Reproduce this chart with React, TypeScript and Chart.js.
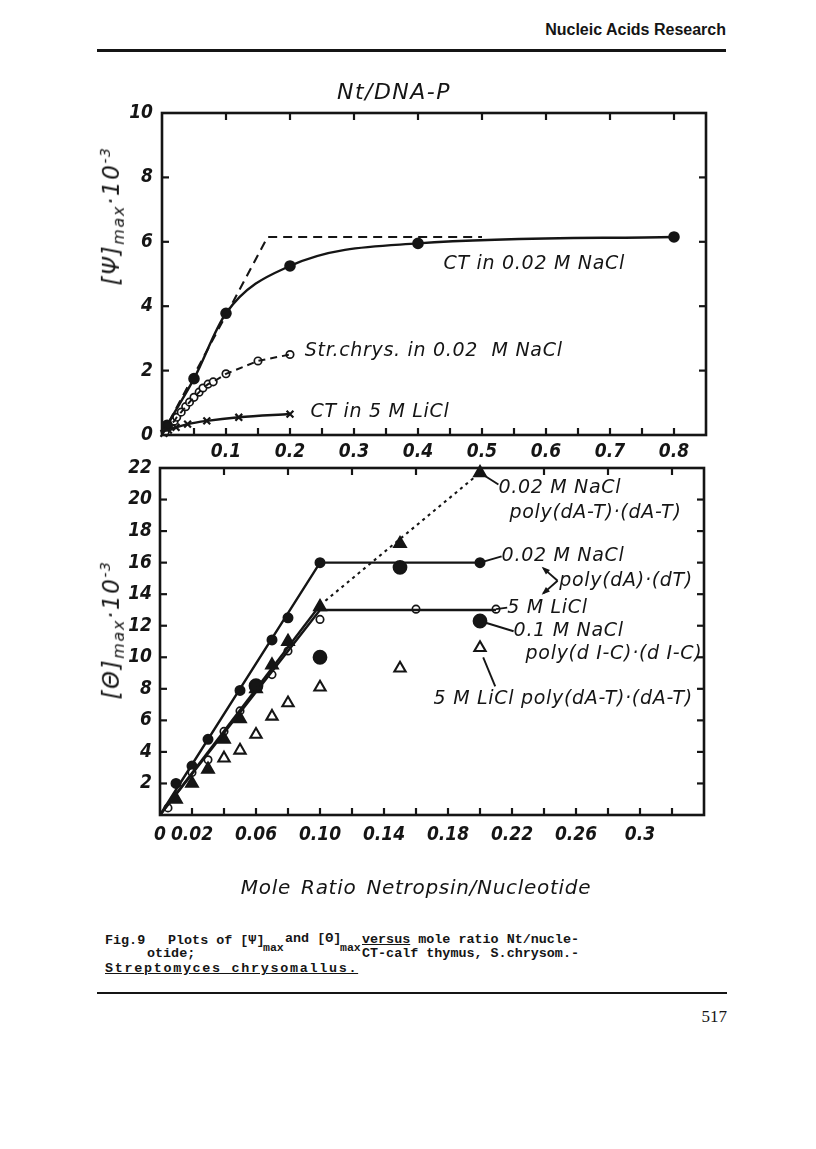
import React, { useEffect, useRef } from "react";
import { Chart, registerables } from "chart.js";

Chart.register(...registerables);

// ================= Upper panel: [Ψ]max vs Nt/DNA-P =================
const ctNaClX = [0, 0.008, 0.05, 0.1, 0.2, 0.4, 0.8];
const ctNaClY = [0, 0.3, 1.75, 3.78, 5.25, 5.95, 6.15];

const strChrysX = [0.005, 0.01, 0.019, 0.023, 0.03, 0.037, 0.043, 0.05, 0.058, 0.064, 0.072, 0.08, 0.1, 0.15, 0.2];
const strChrysY = [0.1, 0.24, 0.43, 0.55, 0.71, 0.88, 1.02, 1.17, 1.33, 1.46, 1.58, 1.65, 1.9, 2.3, 2.5];

const ctLiClX = [0.003, 0.01, 0.022, 0.04, 0.07, 0.12, 0.2];
const ctLiClY = [0.05, 0.15, 0.24, 0.34, 0.44, 0.55, 0.65];

const limitX = [0, 0.165, 0.5];
const limitY = [0, 6.15, 6.15];

const topXLabelValues = [0.1, 0.2, 0.3, 0.4, 0.5, 0.6, 0.7, 0.8];
const topXLabelTexts = ["0.1", "0.2", "0.3", "0.4", "0.5", "0.6", "0.7", "0.8"];
const topYLabelValues = [0, 2, 4, 6, 8, 10];
const topYLabelTexts = ["0", "2", "4", "6", "8", "10"];
const topXMarksBottom = [0.05, 0.1, 0.15, 0.2, 0.25, 0.3, 0.35, 0.4, 0.45, 0.5, 0.55, 0.6, 0.65, 0.7, 0.75, 0.8];
const topXMarksTop = [0.1, 0.2, 0.3, 0.4, 0.5, 0.6, 0.7, 0.8];
const topYMarks = [2, 4, 6, 8];

// ================= Lower panel: [Θ]max vs mole ratio =================
const dAdT_NaClX = [0.01, 0.02, 0.03, 0.05, 0.07, 0.08, 0.1, 0.2];
const dAdT_NaClY = [2.0, 3.1, 4.8, 7.9, 11.1, 12.5, 16, 16];
const dAdT_NaClFitX = [0, 0.1, 0.2];
const dAdT_NaClFitY = [0, 16, 16];

const dAdT_LiClX = [0.005, 0.02, 0.03, 0.04, 0.05, 0.07, 0.08, 0.1, 0.16, 0.21];
const dAdT_LiClY = [0.45, 2.7, 3.5, 5.3, 6.6, 8.9, 10.4, 12.4, 13.05, 13.05];
const dAdT_LiClFitX = [0, 0.1, 0.21];
const dAdT_LiClFitY = [0, 13.0, 13.0];

const dAT_NaClX = [0.01, 0.02, 0.03, 0.04, 0.05, 0.06, 0.07, 0.08, 0.1, 0.15, 0.2];
const dAT_NaClY = [1.0, 2.0, 2.9, 4.8, 6.1, 8.0, 9.5, 11.0, 13.2, 17.2, 21.7];
const dAT_NaClFitX = [0, 0.1];
const dAT_NaClFitY = [0, 13.3];
const dAT_NaClExtX = [0.1, 0.2];
const dAT_NaClExtY = [13.3, 21.7];

const dIC_NaClX = [0.06, 0.1, 0.15, 0.2];
const dIC_NaClY = [8.2, 10.0, 15.7, 12.3];

const dAT_LiClX = [0.04, 0.05, 0.06, 0.07, 0.08, 0.1, 0.15, 0.2];
const dAT_LiClY = [3.6, 4.1, 5.1, 6.25, 7.1, 8.1, 9.3, 10.6];

const botXLabelValues = [0, 0.02, 0.06, 0.1, 0.14, 0.18, 0.22, 0.26, 0.3];
const botXLabelTexts = ["0", "0.02", "0.06", "0.10", "0.14", "0.18", "0.22", "0.26", "0.3"];
const botYLabelValues = [2, 4, 6, 8, 10, 12, 14, 16, 18, 20, 22];
const botYLabelTexts = ["2", "4", "6", "8", "10", "12", "14", "16", "18", "20", "22"];
const botXMarksBottom = [0.02, 0.04, 0.06, 0.08, 0.1, 0.12, 0.14, 0.16, 0.18, 0.2, 0.22, 0.24, 0.26, 0.28, 0.3, 0.32];
const botXMarksTop = [0.04, 0.08, 0.12, 0.16, 0.2, 0.24, 0.28, 0.32];
const botYMarks = [2, 4, 6, 8, 10, 12, 14, 16, 18, 20];

// Annotations (data coordinates)
const topNotes = [
  { text: "CT in 0.02 M NaCl", x: 0.44, y: 5.3 },
  { text: "Str.chrys. in 0.02  M NaCl", x: 0.223, y: 2.6 },
  { text: "CT in 5 M LiCl", x: 0.232, y: 0.7 },
];
const botNotes = [
  { text: "0.02 M NaCl", x: 0.2115, y: 20.75 },
  { text: "poly(dA-T)·(dA-T)", x: 0.2184, y: 19.15 },
  { text: "0.02 M NaCl", x: 0.2135, y: 16.4 },
  { text: "poly(dA)·(dT)", x: 0.2495, y: 14.85 },
  { text: "5 M LiCl", x: 0.217, y: 13.15 },
  { text: "0.1 M NaCl", x: 0.221, y: 11.65 },
  { text: "poly(d I-C)·(d I-C)", x: 0.2285, y: 10.2 },
  { text: "5 M LiCl poly(dA-T)·(dA-T)", x: 0.171, y: 7.35 },
];
const botLeaders = [
  { pts: [[0.2, 21.7], [0.2115, 20.95]], arrow: false },
  { pts: [[0.2, 16], [0.2135, 16.4]], arrow: false },
  { pts: [[0.21, 13.05], [0.217, 13.15]], arrow: false },
  { pts: [[0.2, 12.3], [0.221, 11.65]], arrow: false },
  { pts: [[0.202, 10.0], [0.2095, 8.15]], arrow: false },
  { pts: [[0.2485, 14.85], [0.2395, 15.65]], arrow: true },
  { pts: [[0.2485, 14.85], [0.2395, 14.05]], arrow: true },
];

const INK = "#151515";
const FONT = '"DejaVu Sans Condensed", "DejaVu Sans", sans-serif';
const TEXT_FONT = '"DejaVu Sans", sans-serif';

function pts(xs: number[], ys: number[]) {
  return xs.map((x, i) => ({ x, y: ys[i] }));
}

type PanelCfg = {
  xBottom: number[];
  xTop: number[];
  yMarks: number[];
  notes: { text: string; x: number; y: number }[];
  leaders: { pts: number[][]; arrow: boolean }[];
};

function framePlugin(cfg: PanelCfg) {
  return {
    id: "frame",
    afterDatasetsDraw(chart: any) {
      const { ctx, chartArea: a } = chart;
      const x = chart.scales.x;
      const y = chart.scales.y;
      ctx.save();
      ctx.strokeStyle = INK;
      ctx.fillStyle = INK;
      ctx.lineWidth = 2.6;
      ctx.setLineDash([]);
      ctx.strokeRect(a.left, a.top, a.right - a.left, a.bottom - a.top);
      ctx.lineWidth = 2.2;
      const L = 7;
      const seg = (x1: number, y1: number, x2: number, y2: number) => {
        ctx.beginPath();
        ctx.moveTo(x1, y1);
        ctx.lineTo(x2, y2);
        ctx.stroke();
      };
      cfg.xBottom.forEach((v) => {
        const p = x.getPixelForValue(v);
        seg(p, a.bottom, p, a.bottom - L);
      });
      cfg.xTop.forEach((v) => {
        const p = x.getPixelForValue(v);
        seg(p, a.top, p, a.top + L);
      });
      cfg.yMarks.forEach((v) => {
        const p = y.getPixelForValue(v);
        seg(a.left, p, a.left + L, p);
        seg(a.right, p, a.right - L, p);
      });
      ctx.lineWidth = 1.9;
      cfg.leaders.forEach((l) => {
        const p0 = [x.getPixelForValue(l.pts[0][0]), y.getPixelForValue(l.pts[0][1])];
        const p1 = [x.getPixelForValue(l.pts[1][0]), y.getPixelForValue(l.pts[1][1])];
        seg(p0[0], p0[1], p1[0], p1[1]);
        if (l.arrow) {
          const ang = Math.atan2(p1[1] - p0[1], p1[0] - p0[0]);
          const s = 7;
          ctx.beginPath();
          ctx.moveTo(p1[0] + Math.cos(ang) * 2, p1[1] + Math.sin(ang) * 2);
          ctx.lineTo(p1[0] - Math.cos(ang - 0.45) * s, p1[1] - Math.sin(ang - 0.45) * s);
          ctx.lineTo(p1[0] - Math.cos(ang + 0.45) * s, p1[1] - Math.sin(ang + 0.45) * s);
          ctx.closePath();
          ctx.fill();
        }
      });
      ctx.font = `italic 19px ${TEXT_FONT}`;
      (ctx as any).letterSpacing = "0.7px";
      ctx.textBaseline = "middle";
      ctx.textAlign = "left";
      cfg.notes.forEach((n) => {
        ctx.fillText(n.text, x.getPixelForValue(n.x), y.getPixelForValue(n.y));
      });
      (ctx as any).letterSpacing = "0px";
      ctx.restore();
    },
  };
}

function lineDs(data: any[], opts: any = {}) {
  return {
    data,
    showLine: true,
    borderColor: INK,
    borderWidth: 2.4,
    pointRadius: 0,
    fill: false,
    clip: false,
    ...opts,
  };
}

function markDs(data: any[], style: string, filled: boolean, radius: number, opts: any = {}) {
  return {
    data,
    showLine: false,
    pointStyle: style,
    pointRadius: radius,
    pointBorderWidth: 1.8,
    pointBorderColor: INK,
    pointBackgroundColor: filled ? INK : "#ffffff",
    clip: false,
    ...opts,
  };
}

function makeScales(o: {
  xmax: number;
  ymax: number;
  xVals: number[];
  xTexts: string[];
  yVals: number[];
  yTexts: string[];
  yWidth: number;
  xHeight: number;
  xPad: number;
  yPad: number;
}) {
  const tickFont = { family: FONT, size: 19, style: "italic" as const, weight: "bold" as const };
  return {
    x: {
      type: "linear" as const,
      min: 0,
      max: o.xmax,
      grid: { display: false, drawTicks: false },
      border: { display: false },
      afterBuildTicks: (s: any) => {
        s.ticks = o.xVals.map((v) => ({ value: v }));
      },
      afterFit: (s: any) => {
        s.height = o.xHeight;
      },
      ticks: {
        autoSkip: false,
        maxRotation: 0,
        padding: o.xPad,
        color: INK,
        font: tickFont,
        callback: (v: any) => {
          const i = o.xVals.findIndex((t) => Math.abs(t - v) < 1e-9);
          return i >= 0 ? o.xTexts[i] : "";
        },
      },
    },
    y: {
      type: "linear" as const,
      min: 0,
      max: o.ymax,
      grid: { display: false, drawTicks: false },
      border: { display: false },
      afterBuildTicks: (s: any) => {
        s.ticks = o.yVals.map((v) => ({ value: v }));
      },
      afterFit: (s: any) => {
        s.width = o.yWidth;
      },
      ticks: {
        autoSkip: false,
        padding: o.yPad,
        color: INK,
        font: tickFont,
        callback: (v: any) => {
          const i = o.yVals.findIndex((t) => Math.abs(t - v) < 1e-9);
          return i >= 0 ? o.yTexts[i] : "";
        },
      },
    },
  };
}

const abs = (left: number, top: number, extra: React.CSSProperties = {}): React.CSSProperties => ({
  position: "absolute",
  left,
  top,
  margin: 0,
  whiteSpace: "nowrap",
  color: INK,
  ...extra,
});

export default function App() {
  const topRef = useRef<HTMLCanvasElement>(null);
  const botRef = useRef<HTMLCanvasElement>(null);

  useEffect(() => {
    const top = new Chart(topRef.current as HTMLCanvasElement, {
      type: "scatter",
      data: {
        datasets: [
          lineDs(pts(limitX, limitY), { borderDash: [9, 6], borderWidth: 2.1 }),
          lineDs(pts(ctNaClX, ctNaClY), {
            cubicInterpolationMode: "monotone",
            pointRadius: ctNaClX.map((v) => (v === 0 ? 0 : 4.6)),
            pointStyle: "circle",
            pointBackgroundColor: INK,
            pointBorderColor: INK,
          }),
          lineDs(pts(strChrysX, strChrysY), { borderDash: [7, 5], borderWidth: 2 }),
          markDs(pts(strChrysX, strChrysY), "circle", false, 3.7, { pointBorderWidth: 1.7 }),
          lineDs(pts(ctLiClX, ctLiClY), { cubicInterpolationMode: "monotone" }),
          markDs(pts(ctLiClX, ctLiClY), "crossRot", false, 4.8, { pointBorderWidth: 2.2 }),
        ],
      },
      options: {
        responsive: false,
        animation: false,
        events: [],
        layout: { padding: { top: 53, right: 54, left: 0, bottom: 0 } },
        plugins: { legend: { display: false }, tooltip: { enabled: false } },
        scales: makeScales({
          xmax: 0.85,
          ymax: 10,
          xVals: topXLabelValues,
          xTexts: topXLabelTexts,
          yVals: topYLabelValues,
          yTexts: topYLabelTexts,
          yWidth: 102,
          xHeight: 45,
          xPad: 6,
          yPad: 9,
        }),
      },
      plugins: [
        framePlugin({ xBottom: topXMarksBottom, xTop: topXMarksTop, yMarks: topYMarks, notes: topNotes, leaders: [] }),
      ],
    } as any);

    const bot = new Chart(botRef.current as HTMLCanvasElement, {
      type: "scatter",
      data: {
        datasets: [
          lineDs(pts(dAT_NaClExtX, dAT_NaClExtY), { borderDash: [3, 4], borderWidth: 2.1 }),
          lineDs(pts(dAdT_NaClFitX, dAdT_NaClFitY)),
          lineDs(pts(dAdT_LiClFitX, dAdT_LiClFitY)),
          lineDs(pts(dAT_NaClFitX, dAT_NaClFitY)),
          markDs(pts(dAT_LiClX, dAT_LiClY), "triangle", false, 6.5, { pointBorderWidth: 2.1 }),
          markDs(pts(dIC_NaClX, dIC_NaClY), "circle", true, 6.5),
          markDs(pts(dAT_NaClX, dAT_NaClY), "triangle", true, 7),
          markDs(pts(dAdT_LiClX, dAdT_LiClY), "circle", false, 3.7, { pointBorderWidth: 1.7 }),
          markDs(pts(dAdT_NaClX, dAdT_NaClY), "circle", true, 4.6),
        ],
      },
      options: {
        responsive: false,
        animation: false,
        events: [],
        layout: { padding: { top: 28, right: 56, left: 0, bottom: 0 } },
        plugins: { legend: { display: false }, tooltip: { enabled: false } },
        scales: makeScales({
          xmax: 0.34,
          ymax: 22,
          xVals: botXLabelValues,
          xTexts: botXLabelTexts,
          yVals: botYLabelValues,
          yTexts: botYLabelTexts,
          yWidth: 100,
          xHeight: 65,
          xPad: 9,
          yPad: 8,
        }),
      },
      plugins: [
        framePlugin({ xBottom: botXMarksBottom, xTop: botXMarksTop, yMarks: botYMarks, notes: botNotes, leaders: botLeaders }),
      ],
    } as any);

    return () => {
      top.destroy();
      bot.destroy();
    };
  }, []);

  const textItalic: React.CSSProperties = { fontFamily: TEXT_FONT, fontStyle: "italic" };
  const mono: React.CSSProperties = {
    fontFamily: '"Liberation Mono", "DejaVu Sans Mono", monospace',
    fontWeight: "bold",
    fontSize: 13.4,
    lineHeight: "16px",
  };
  const monoSub: React.CSSProperties = { ...mono, fontSize: 11.5 };
  const yTitle: React.CSSProperties = {
    ...textItalic,
    fontSize: 23,
    lineHeight: "26px",
    letterSpacing: 1.6,
    transform: "translate(-50%, -50%) rotate(-90deg)",
  };

  return (
    <div style={{ position: "absolute", left: 0, top: 0, width: 816, height: 1149, background: "#fff", overflow: "hidden" }}>
      {/* page header */}
      <div
        style={abs(0, 20, {
          width: 726,
          textAlign: "right",
          fontFamily: '"Liberation Sans", Arial, sans-serif',
          fontWeight: "bold",
          fontSize: 16,
          lineHeight: "20px",
        })}
      >
        Nucleic Acids Research
      </div>
      <div style={abs(97, 49, { width: 629, height: 3, background: INK })} />

      {/* charts */}
      <canvas ref={topRef} width={700} height={420} style={abs(60, 60, { width: 700, height: 420 })} />
      <canvas ref={botRef} width={700} height={440} style={abs(60, 440, { width: 700, height: 440 })} />

      {/* chart titles */}
      <div style={abs(394, 91, { ...textItalic, fontSize: 22, letterSpacing: 1.5, transform: "translate(-50%, -50%)" })}>
        Nt/DNA-P
      </div>
      <div style={abs(112, 216, yTitle)}>
        [Ψ]<sub style={{ fontSize: 16 }}>max</sub>·10<sup style={{ fontSize: 14 }}>-3</sup>
      </div>
      <div style={abs(112, 630, yTitle)}>
        [Θ]<sub style={{ fontSize: 16 }}>max</sub>·10<sup style={{ fontSize: 14 }}>-3</sup>
      </div>
      <div
        style={abs(416, 887, { ...textItalic, fontSize: 20, letterSpacing: 0.7, wordSpacing: 3, transform: "translate(-50%, -50%)" })}
      >
        Mole Ratio Netropsin/Nucleotide
      </div>

      {/* caption */}
      <div style={abs(105, 933, mono)}>Fig.9</div>
      <div style={abs(168, 933, mono)}>Plots of [Ψ]</div>
      <div style={abs(263, 940, monoSub)}>max</div>
      <div style={abs(285, 931, mono)}>and [Θ]</div>
      <div style={abs(340, 940, monoSub)}>max</div>
      <div style={abs(362, 932, mono)}>
        <span style={{ textDecoration: "underline" }}>versus</span> mole ratio Nt/nucle-
      </div>
      <div style={abs(147, 946, mono)}>otide;</div>
      <div style={abs(362, 946, mono)}>CT-calf thymus, S.chrysom.-</div>
      <div style={abs(105, 961, { ...mono, letterSpacing: 1.7, textDecoration: "underline" })}>
        Streptomyces chrysomallus.
      </div>

      {/* footer */}
      <div style={abs(97, 992, { width: 630, height: 2, background: INK })} />
      <div style={abs(627, 1007, { width: 100, textAlign: "right", fontFamily: '"Liberation Serif", serif', fontSize: 17, lineHeight: "20px" })}>
        517
      </div>
    </div>
  );
}
